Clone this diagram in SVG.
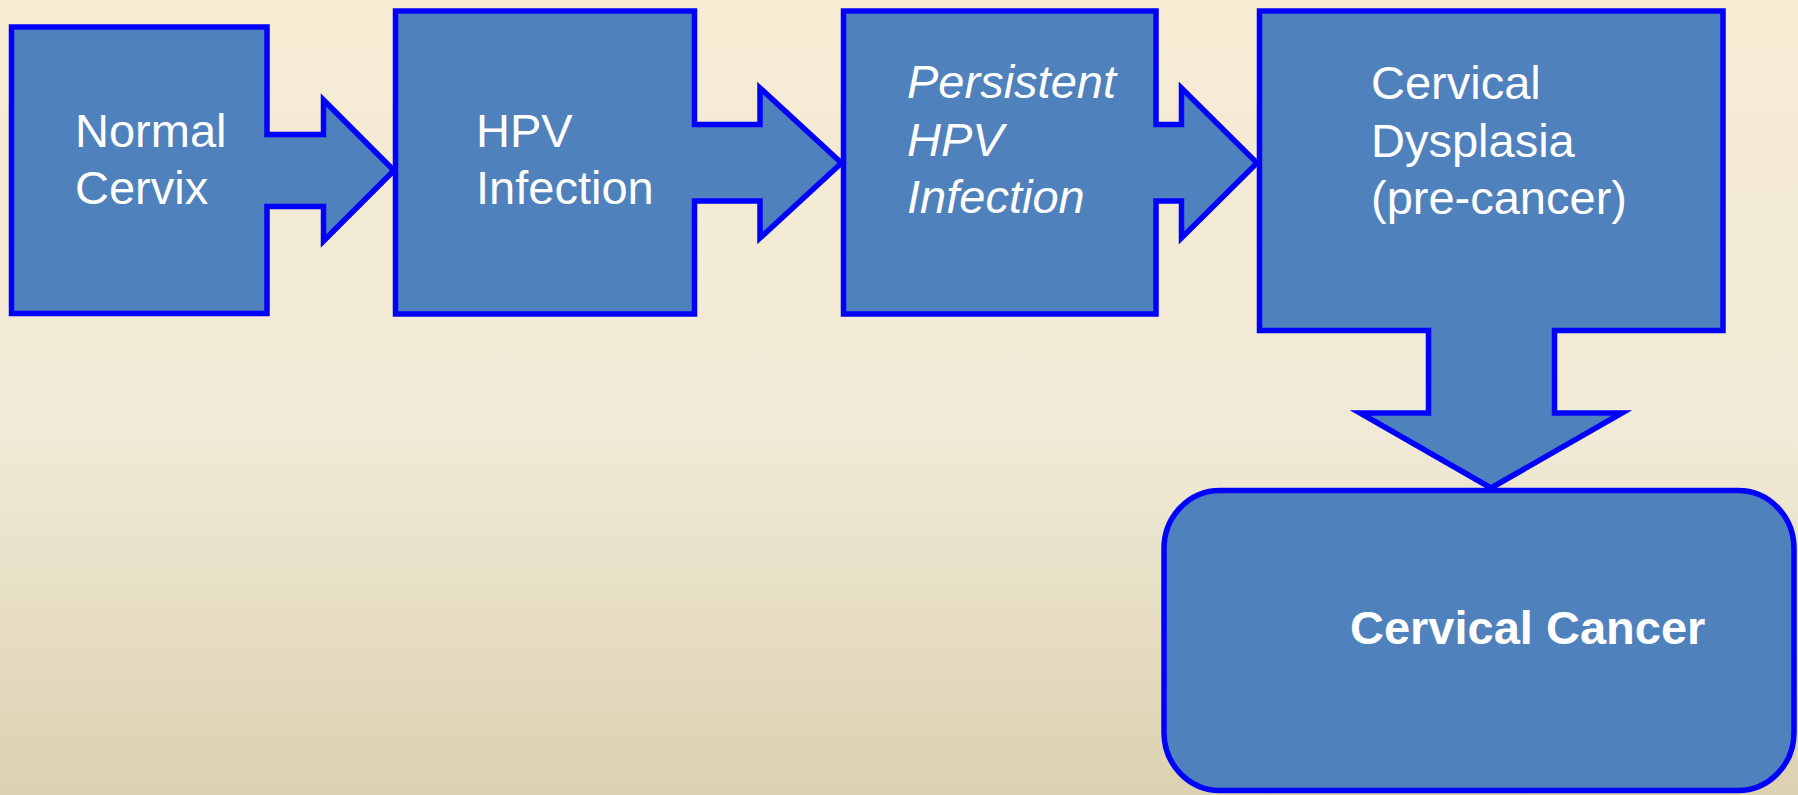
<svg xmlns="http://www.w3.org/2000/svg" width="1798" height="795" viewBox="0 0 1798 795">
  <defs>
    <linearGradient id="bg" x1="0" y1="0" x2="0" y2="1">
      <stop offset="0" stop-color="#F7EBD3"/>
      <stop offset="0.55" stop-color="#F0EAD6"/>
      <stop offset="1" stop-color="#DCD1B0"/>
    </linearGradient>
  </defs>
  <style>
    .shape { fill: #4F81BD; stroke: #0000FF; stroke-width: 5.5; stroke-linejoin: miter; }
    .lbl { fill: #FFFFFF; font-family: "Liberation Sans", Arial, sans-serif; font-size: 47px; }
    .it { font-style: italic; }
    .bold { font-weight: bold; }
  </style>
  <rect x="0" y="0" width="1798" height="795" fill="url(#bg)"/>
  <g id="connectors"></g>
  <g id="node-normal-cervix">
    <polygon class="shape" points="11.5,27 267,27 267,134.5 323.5,134.5 323.5,100 394,170.5 323.5,241 323.5,206.5 267,206.5 267,313.5 11.5,313.5"/>
    <text class="lbl" x="75" y="147">Normal</text>
    <text class="lbl" x="75" y="204">Cervix</text>
  </g>
  <g id="node-hpv-infection">
    <polygon class="shape" points="395.5,11 694.5,11 694.5,124.5 760,124.5 760,88 841.5,163 760,238 760,201 694.5,201 694.5,314 395.5,314"/>
    <text class="lbl" x="476" y="147">HPV</text>
    <text class="lbl" x="476" y="204">Infection</text>
  </g>
  <g id="node-persistent-hpv">
    <polygon class="shape" points="843.5,11 1156,11 1156,124.5 1181.5,124.5 1181.5,88 1257,163 1181.5,238 1181.5,201 1156,201 1156,314 843.5,314"/>
    <text class="lbl it" x="907" y="98">Persistent</text>
    <text class="lbl it" x="907" y="156">HPV</text>
    <text class="lbl it" x="907" y="213">Infection</text>
  </g>
  <g id="node-cervical-dysplasia">
    <polygon class="shape" points="1259.5,11 1723,11 1723,330.5 1554.5,330.5 1554.5,413 1622,413 1491,488 1360,413 1428.5,413 1428.5,330.5 1259.5,330.5"/>
    <text class="lbl" x="1371" y="99">Cervical</text>
    <text class="lbl" x="1371" y="157">Dysplasia</text>
    <text class="lbl" x="1371" y="214">(pre-cancer)</text>
  </g>
  <g id="node-cervical-cancer">
    <rect class="shape" x="1164" y="490.5" width="630" height="300" rx="56" ry="58"/>
    <text class="lbl bold" x="1350" y="644">Cervical Cancer</text>
  </g>
</svg>
